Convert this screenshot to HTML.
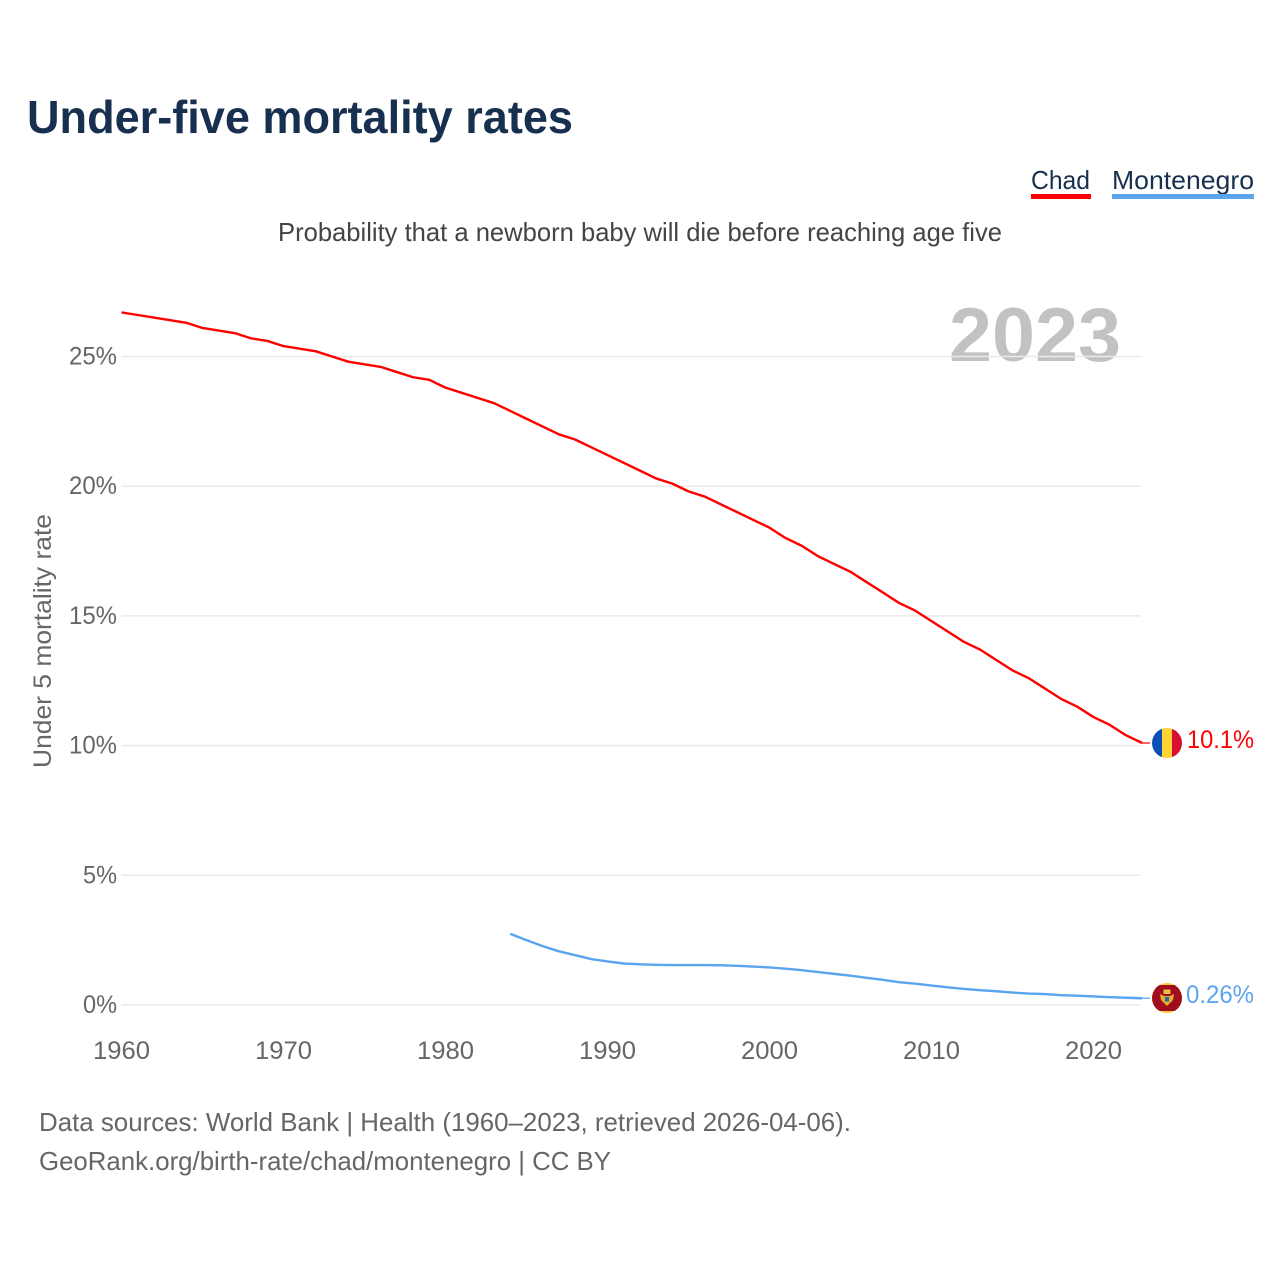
<!DOCTYPE html>
<html lang="en">
<head>
<meta charset="utf-8">
<title>Under-five mortality rates</title>
<style>
html,body{margin:0;padding:0;background:#fff;}
svg{display:block;font-family:"Liberation Sans",Arial,sans-serif;}
</style>
</head>
<body>
<svg id="chart" xmlns="http://www.w3.org/2000/svg" width="1280" height="1280" viewBox="0 0 1280 1280">
  <rect width="1280" height="1280" fill="#ffffff"/>
  <text x="27" y="133" font-size="46" font-weight="700" fill="#18304f" textLength="546" lengthAdjust="spacingAndGlyphs">Under-five mortality rates</text>
  <g>
    <text x="1031" y="189" font-size="26" fill="#18304f" textLength="59" lengthAdjust="spacingAndGlyphs">Chad</text>
    <rect x="1031" y="194" width="60" height="5" fill="#ff0000"/>
  </g>
  <g>
    <text x="1112" y="189" font-size="26" fill="#18304f" textLength="142" lengthAdjust="spacingAndGlyphs">Montenegro</text>
    <rect x="1112" y="194" width="142" height="5" fill="#5ba4ee"/>
  </g>
  <text x="278" y="241" font-size="26" fill="#444444" textLength="724" lengthAdjust="spacingAndGlyphs">Probability that a newborn baby will die before reaching age five</text>
  <text x="949" y="361" font-size="76" font-weight="700" fill="#c2c2c2" textLength="172" lengthAdjust="spacingAndGlyphs">2023</text>
  <g id="grid"></g>
  <g id="y-ticks"></g>
  <g id="x-ticks"></g>
  <text transform="translate(51,768) rotate(-90)" font-size="25" fill="#666666" textLength="254" lengthAdjust="spacingAndGlyphs">Under 5 mortality rate</text>
  <g id="series"></g>
  <defs>
    <clipPath id="flag-clip-td"><circle cx="1167" cy="743" r="15"/></clipPath>
    <clipPath id="flag-clip-me"><circle cx="1167" cy="998" r="15"/></clipPath>
  </defs>
  <g clip-path="url(#flag-clip-td)">
    <rect x="1152" y="728" width="10" height="30" fill="#0a50b4"/>
    <rect x="1162" y="728" width="10" height="30" fill="#fed332"/>
    <rect x="1172" y="728" width="10" height="30" fill="#d80f32"/>
  </g>
  <g clip-path="url(#flag-clip-me)">
    <rect x="1152" y="983" width="30" height="30" fill="#fcc93a"/>
    <rect x="1152" y="985" width="30" height="26" fill="#a00d1e"/>
    <path d="M1160 994 L1164 996 L1170 996 L1174 994 L1173 1000 L1170 1003 L1167 1006 L1164 1003 L1161 1000 Z" fill="#e0b030"/>
    <rect x="1163.5" y="989.5" width="7" height="4.5" fill="#eac13e"/>
    <rect x="1165" y="997" width="4" height="4.5" fill="#2b6a9c"/>
  </g>
  <text id="label-chad" x="1187" y="748" font-size="25" fill="#ff0000" textLength="67" lengthAdjust="spacingAndGlyphs">10.1%</text>
  <text id="label-me" x="1186" y="1003" font-size="25" fill="#5ba4ee" textLength="68" lengthAdjust="spacingAndGlyphs">0.26%</text>
  <text x="39" y="1131" font-size="26" fill="#666666" textLength="812" lengthAdjust="spacingAndGlyphs">Data sources: World Bank | Health (1960–2023, retrieved 2026-04-06).</text>
  <text x="39" y="1170" font-size="26" fill="#666666" textLength="572" lengthAdjust="spacingAndGlyphs">GeoRank.org/birth-rate/chad/montenegro | CC BY</text>
</svg>
<script>
const chadStartYear = 1960;
const chadValues = [26.7,26.6,26.5,26.4,26.3,26.1,26.0,25.9,25.7,25.6,25.4,25.3,25.2,25.0,24.8,24.7,24.6,24.4,24.2,24.1,23.8,23.6,23.4,23.2,22.9,22.6,22.3,22.0,21.8,21.5,21.2,20.9,20.6,20.3,20.1,19.8,19.6,19.3,19.0,18.7,18.4,18.0,17.7,17.3,17.0,16.7,16.3,15.9,15.5,15.2,14.8,14.4,14.0,13.7,13.3,12.9,12.6,12.2,11.8,11.5,11.1,10.8,10.4,10.1];
const montenegroStartYear = 1984;
const montenegroValues = [2.74,2.5,2.27,2.07,1.92,1.77,1.68,1.6,1.57,1.55,1.54,1.54,1.54,1.53,1.51,1.48,1.45,1.4,1.34,1.27,1.2,1.13,1.05,0.97,0.88,0.82,0.75,0.68,0.62,0.57,0.53,0.48,0.44,0.42,0.38,0.36,0.33,0.3,0.28,0.26];
const yTickValues = [0,5,10,15,20,25];
const xTickYears = [1960,1970,1980,1990,2000,2010,2020];

const SVG_NS = 'http://www.w3.org/2000/svg';
function xScale(year){ return 121.5 + (year - 1960) * 16.2; }
function yScale(value){ return 1005 - value * 25.94; }
function make(tag, attrs, text){
  const el = document.createElementNS(SVG_NS, tag);
  for (const k in attrs) el.setAttribute(k, attrs[k]);
  if (text !== undefined) el.textContent = text;
  return el;
}

const gridGroup = document.getElementById('grid');
const yTickGroup = document.getElementById('y-ticks');
yTickValues.forEach(function(v){
  const line = make('line', {x1:121.5, x2:1141, y1:yScale(v), y2:yScale(v), stroke:'#eaeaea', 'stroke-width':1.5});
  
  
  gridGroup.appendChild(line);
  const text = v + '%';
  const label = make('text', {x:117, y:yScale(v) + 8, 'font-size':25, fill:'#666666', 'text-anchor':'end', textLength:text.length === 3 ? 48 : 34, lengthAdjust:'spacingAndGlyphs'}, text);
  
  
  yTickGroup.appendChild(label);
});

const xTickGroup = document.getElementById('x-ticks');
xTickYears.forEach(function(y){
  const label = make('text', {x:xScale(y), y:1059, 'font-size':25, fill:'#666666', 'text-anchor':'middle', textLength:57, lengthAdjust:'spacingAndGlyphs'}, String(y));
  
  
  xTickGroup.appendChild(label);
});

function linePoints(startYear, values){
  return values.map(function(v, i){ return xScale(startYear + i).toFixed(2) + ',' + yScale(v).toFixed(2); });
}
const seriesGroup = document.getElementById('series');

const chadPts = linePoints(chadStartYear, chadValues);
const chadLine = make('polyline', {points:chadPts.join(' '), fill:'none', stroke:'#ff0000', 'stroke-width':2.4, 'stroke-linejoin':'round'});


seriesGroup.appendChild(chadLine);

const montePts = linePoints(montenegroStartYear, montenegroValues);
const monteLine = make('polyline', {points:montePts.join(' '), fill:'none', stroke:'#5ba4ee', 'stroke-width':2.4, 'stroke-linejoin':'round'});


seriesGroup.appendChild(monteLine);

const chadLastX = xScale(chadStartYear + chadValues.length - 1);
const chadLastY = yScale(chadValues[chadValues.length - 1]);
const chadLead = make('line', {x1:chadLastX, x2:chadLastX + 8, y1:chadLastY, y2:chadLastY, stroke:'#ff0000', 'stroke-width':1.2});


seriesGroup.appendChild(chadLead);

const monteLastX = xScale(montenegroStartYear + montenegroValues.length - 1);
const monteLastY = yScale(montenegroValues[montenegroValues.length - 1]);
const monteLead = make('line', {x1:monteLastX, x2:monteLastX + 8, y1:monteLastY, y2:monteLastY, stroke:'#5ba4ee', 'stroke-width':1.2});


seriesGroup.appendChild(monteLead);
</script>
</body>
</html>
